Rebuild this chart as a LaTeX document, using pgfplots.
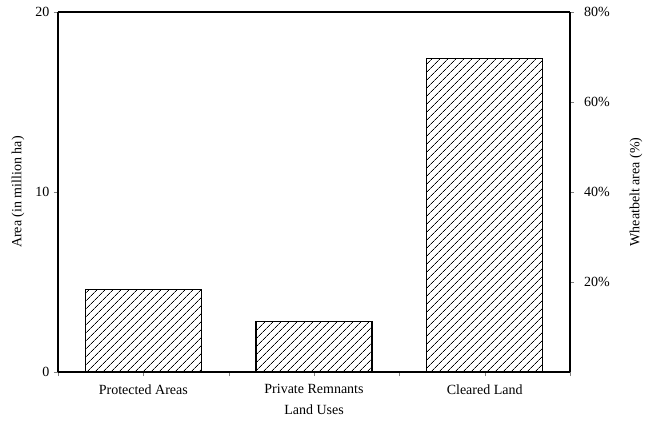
\documentclass[border=0pt]{standalone}
\usepackage{pgfplots}
\pgfplotsset{compat=1.18}
\usepackage{fontspec}
\setmainfont{Liberation Serif}
\usetikzlibrary{patterns.meta}
\newcommand{\fs}{\fontsize{10.5}{12}\selectfont}
\begin{document}
\begin{tikzpicture}
\begin{axis}[
  width=384pt, height=270pt, scale only axis,
  xmin=-0.5, xmax=2.5, ymin=0, ymax=20,
  axis y line*=left, axis x line*=bottom,
  xtick={0,1,2}, xticklabels={Protected Areas, Private Remnants, Cleared Land},
  minor xtick={-0.5,0.5,1.5,2.5},
  ytick={0,10,20},
  tick align=outside, tick pos=left,
  major tick length=3pt, minor tick length=3pt,
  xlabel={Land Uses}, ylabel={Area (in million ha)},
  ylabel style={at={(axis description cs:-0.078,0.5)}, anchor=center},
  xlabel style={at={(axis description cs:0.5,-0.105)}, anchor=center},
  xticklabel style={yshift=-3pt},
  tick label style={font=\fs}, label style={font=\fs},
  /pgf/number format/assume math mode=true,
  axis line style={line width=0.8pt},
  ybar, bar width=0.68,
  clip=false,
]
\addplot[draw=black, line width=0.8pt, pattern={Lines[angle=45,distance=4pt,line width=0.6pt]}]
  coordinates {(0,4.6) (1,2.78) (2,17.44)};
\draw[line width=0.8pt] (rel axis cs:0,1) -- (rel axis cs:1,1);
\path (rel axis cs:0,0) ++(-43.5pt,-39pt) coordinate (bl);
\path (rel axis cs:1,1) ++(61.5pt,9pt) coordinate (tr);
\end{axis}
\path (bl) (tr);
\begin{axis}[
  width=384pt, height=270pt, scale only axis,
  xmin=-0.5, xmax=2.5, ymin=0, ymax=80,
  axis y line*=right, axis x line=none,
  ytick={20,40,60,80}, yticklabels={20\%,40\%,60\%,80\%},
  tick align=outside, major tick length=3pt,
  ylabel={Wheatbelt area (\%)},
  ylabel style={at={(axis description cs:1.129,0.5)}, anchor=center},
  tick label style={font=\fs}, label style={font=\fs},
  /pgf/number format/assume math mode=true,
  axis line style={line width=0.8pt},
  yticklabel style={xshift=4pt},
]
\addplot[draw=none] coordinates {(0,0)};
\end{axis}
\end{tikzpicture}
\end{document}
